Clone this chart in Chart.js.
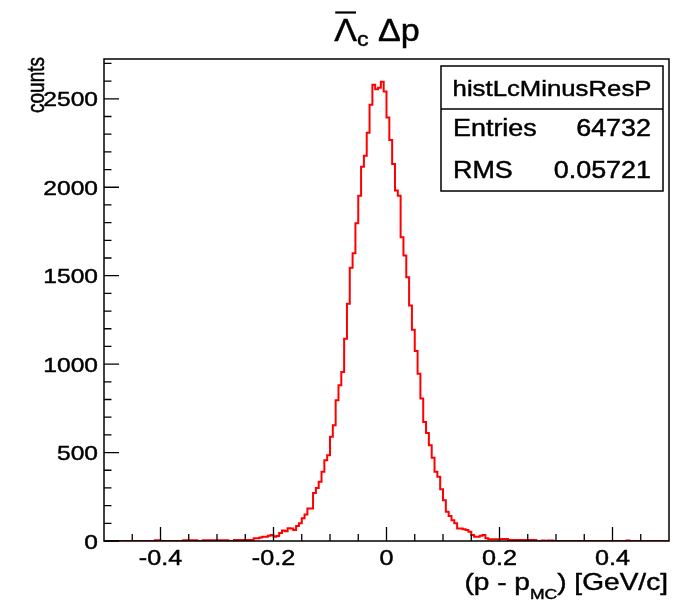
<!DOCTYPE html>
<html>
<head>
<meta charset="utf-8">
<script src="https://cdn.jsdelivr.net/npm/chart.js@4.4.1/dist/chart.umd.min.js"></script>
<style>
  html, body { margin: 0; padding: 0; background: #fff; }
</style>
</head>
<body>
<canvas id="grafico" width="674" height="616"></canvas>
<script>
// binning do histograma (200 bins de -0.5 a 0.5)
const binLow = -0.5;
const binWidth = 0.005;

// contagens por bin
const counts = [
  0, 0, 0, 0, 0, 0, 0, 0, 0, 0, 0, 0, 0, 0, 0, 0, 0, 0, 0, 4,
  4, 0, 0, 0, 0, 0, 0, 0, 0, 4, 4, 4, 4, 4, 0, 0, 4, 4, 4, 4,
  4, 4, 4, 4, 4, 0, 0, 5, 5, 5, 5, 5, 5, 5, 15, 15, 20, 24, 24, 30,
  34, 24, 28, 45, 60, 55, 72, 70, 62, 85, 100, 128, 150, 184, 184, 272, 300, 335, 391, 457,
  485, 589, 655, 796, 880, 955, 1144, 1341, 1545, 1627, 1796, 1952, 2116, 2178, 2308, 2466, 2579, 2554, 2563, 2596,
  2541, 2394, 2267, 2131, 1981, 1952, 1717, 1614, 1491, 1332, 1194, 1074, 946, 805, 673, 611, 542, 470, 391, 363,
  292, 231, 166, 141, 118, 100, 71, 71, 66, 62, 53, 34, 24, 24, 30, 34, 15, 10, 10, 10,
  10, 12, 12, 12, 5, 5, 5, 5, 5, 5, 5, 5, 5, 5, 0, 0, 3, 0, 3, 3,
  0, 0, 0, 0, 0, 0, 0, 0, 0, 0, 0, 0, 0, 0, 0, 0, 0, 0, 0, 0,
  0, 0, 0, 0, 0, 0, 3, 0, 0, 0, 0, 0, 0, 0, 0, 0, 0, 0, 0, 0
];

// rótulos dos eixos
const xTicks = [-0.4, -0.2, 0, 0.2, 0.4];
const yTicks = [0, 500, 1000, 1500, 2000, 2500];

// caixa de estatísticas
const statsName = 'histLcMinusResP';
const statsLabels = ['Entries', 'RMS'];
const statsValues = ['64732', '0.05721'];

const FONTE = '"Liberation Sans", Arial, sans-serif';
const SX = 1.17; // texto do ROOT aparece esticado na horizontal
const TRACO = 0.45; // engrossa um pouco as letras

// pontos do contorno (borda esquerda de cada bin + borda final)
const pontos = counts.map((c, i) => ({ x: binLow + i * binWidth, y: c }));
pontos.push({ x: binLow + counts.length * binWidth, y: counts[counts.length - 1] });

function escreve(ctx, str, x, y) {
  ctx.fillText(str, x, y);
  ctx.strokeText(str, x, y);
}

function texto(ctx, str, x, y, size, align) {
  ctx.save();
  ctx.translate(x, y);
  ctx.scale(SX, 1);
  ctx.font = size + 'px ' + FONTE;
  ctx.textAlign = align;
  ctx.textBaseline = 'alphabetic';
  ctx.lineWidth = TRACO;
  escreve(ctx, str, 0, 0);
  ctx.restore();
}

// texto com subscrito: partes [{t, size, dy}]
function textoComposto(ctx, partes, x, y, align, sx) {
  ctx.save();
  ctx.translate(x, y);
  ctx.scale(sx, 1);
  ctx.textAlign = 'left';
  ctx.textBaseline = 'alphabetic';
  ctx.lineWidth = TRACO;
  let total = 0;
  partes.forEach(p => { ctx.font = p.size + 'px ' + FONTE; p.w = ctx.measureText(p.t).width; total += p.w; });
  let cx = align === 'center' ? -total / 2 : (align === 'right' ? -total : 0);
  const posicoes = [];
  partes.forEach(p => {
    ctx.font = p.size + 'px ' + FONTE;
    escreve(ctx, p.t, cx, p.dy || 0);
    posicoes.push(cx);
    cx += p.w;
  });
  ctx.restore();
  return { posicoes: posicoes.map(px => x + px * sx), partes };
}

const moldura = {
  id: 'moldura',
  afterDatasetsDraw(chart) {
    const ctx = chart.ctx;
    const a = chart.chartArea;
    const xs = chart.scales.x;
    const ys = chart.scales.y;
    ctx.save();
    ctx.strokeStyle = '#000';
    ctx.fillStyle = '#000';
    ctx.lineWidth = 1.5;
    ctx.strokeRect(a.left, a.top, a.right - a.left, a.bottom - a.top);

    // marcas do eixo Y (para dentro)
    ctx.lineWidth = 1.3;
    ctx.beginPath();
    for (let v = 0; v <= ys.max; v += 100) {
      const py = ys.getPixelForValue(v);
      const len = v % 500 === 0 ? 15 : 7.5;
      ctx.moveTo(a.left, py);
      ctx.lineTo(a.left + len, py);
    }
    // marcas do eixo X
    for (let k = -9; k <= 9; k++) {
      const v = k * 0.05;
      const px = xs.getPixelForValue(v);
      const len = k % 4 === 0 ? 14 : 7;
      ctx.moveTo(px, a.bottom);
      ctx.lineTo(px, a.bottom - len);
    }
    ctx.stroke();

    // rótulos
    yTicks.forEach(v => texto(ctx, String(v), a.left - 6, ys.getPixelForValue(v) + 7.5, 21, 'right'));
    xTicks.forEach(v => texto(ctx, String(v), xs.getPixelForValue(v), a.bottom + 24, 21.5, 'center'));

    // título do eixo Y
    ctx.save();
    ctx.translate(44, a.top - 2);
    ctx.rotate(-Math.PI / 2);
    ctx.scale(1, 1.25);
    ctx.font = '19px ' + FONTE;
    ctx.textAlign = 'right';
    ctx.lineWidth = TRACO;
    escreve(ctx, 'counts', 0, 0);
    ctx.restore();

    // título do eixo X
    textoComposto(ctx, [
      { t: '(p - p', size: 24 },
      { t: 'MC', size: 15, dy: 9 },
      { t: ') [GeV/c]', size: 24 }
    ], a.right - 1, 590, 'right', SX);

    // título principal
    const r = textoComposto(ctx, [
      { t: '\u039B', size: 31 },
      { t: 'c', size: 21, dy: 5 },
      { t: ' \u0394p', size: 31 }
    ], 377, 41, 'center', 1.1);
    ctx.lineWidth = 2.2;
    ctx.beginPath();
    ctx.moveTo(r.posicoes[0] + 1, 12.5);
    ctx.lineTo(r.posicoes[0] + r.partes[0].w * 1.1 - 1, 12.5);
    ctx.stroke();

    // caixa de estatísticas
    const bx = 441, by = 66, bw = 222, bh = 125, div = 109;
    ctx.fillStyle = '#fff';
    ctx.fillRect(bx, by, bw, bh);
    ctx.fillStyle = '#000';
    ctx.lineWidth = 1.5;
    ctx.strokeRect(bx, by, bw, bh);
    ctx.beginPath();
    ctx.moveTo(bx, div);
    ctx.lineTo(bx + bw, div);
    ctx.stroke();
    texto(ctx, statsName, bx + bw / 2, 96, 22, 'center');
    statsLabels.forEach((lab, i) => {
      const yy = 136 + i * 42;
      texto(ctx, lab, bx + 12, yy, 23, 'left');
      texto(ctx, statsValues[i], bx + bw - 12, yy, 23, 'right');
    });
    ctx.restore();
  }
};

new Chart(document.getElementById('grafico').getContext('2d'), {
  type: 'line',
  data: {
    datasets: [{
      data: pontos,
      stepped: 'after',
      borderColor: '#ff0000',
      borderWidth: 2,
      pointRadius: 0,
      fill: false
    }]
  },
  options: {
    responsive: false,
    animation: false,
    layout: { padding: { left: 104, right: 5, top: 59, bottom: 75 } },
    scales: {
      x: { type: 'linear', min: -0.5, max: 0.5, display: false },
      y: { min: 0, max: 2725, display: false }
    },
    plugins: {
      legend: { display: false },
      tooltip: { enabled: false }
    }
  },
  plugins: [moldura]
});
</script>
</body>
</html>
